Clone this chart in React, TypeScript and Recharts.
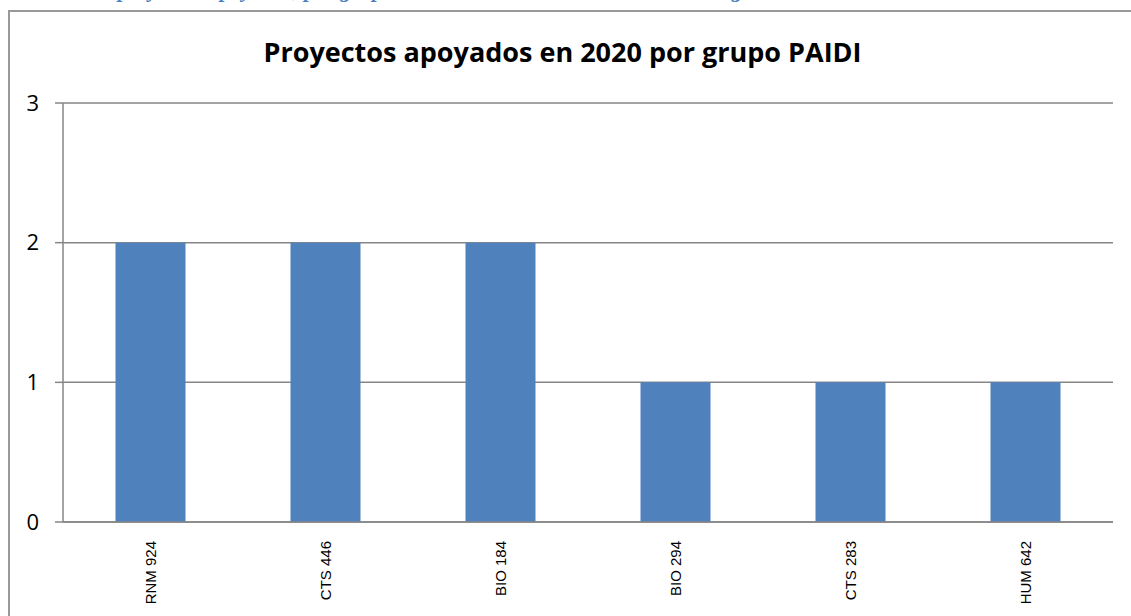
import React from 'react'
import { BarChart, Bar, XAxis, YAxis, CartesianGrid } from 'recharts'

const groups = ['RNM 924', 'CTS 446', 'BIO 184', 'BIO 294', 'CTS 283', 'HUM 642']
const projects = [2, 2, 2, 1, 1, 1]
const yTicks = [0, 1, 2, 3]
const edgeTicks = [0, 1, 2, 3, 4, 5, 6]

const data = groups.map((name, i) => ({ name, projects: projects[i] }))

const GRAY = '#868686'

function GroupTick({ x, y, payload }: any) {
  return (
    <text
      x={x}
      y={y + 11}
      transform={`rotate(-90, ${x}, ${y + 11})`}
      textAnchor="end"
      dominantBaseline="central"
      fontSize={15}
      fontFamily="'Liberation Sans', Arial, sans-serif"
      fill="#000"
    >
      {payload.value}
    </text>
  )
}

export default function App() {
  return (
    <div style={{ position: 'absolute', left: 0, top: 0, width: 1131, height: 616, overflow: 'hidden', background: '#fff' }}>
      {/* caption of the document, cut off by the crop */}
      <div
        style={{
          position: 'absolute',
          left: 118,
          top: -23,
          whiteSpace: 'nowrap',
          fontFamily: "'Liberation Serif', serif",
          fontStyle: 'italic',
          fontWeight: 'bold',
          fontSize: 22,
          color: '#4f81bd',
        }}
      >
        proyectos apoyados, por grupo PAIDI en la convocatoria de 2020 según
      </div>
      <div
        style={{
          position: 'absolute',
          left: 8,
          top: 10,
          width: 1140,
          height: 620,
          borderLeft: '2px solid #999',
          borderTop: '2px solid #999',
          background: '#fff',
        }}
      />
      <div
        style={{
          position: 'absolute',
          left: 0,
          top: 33,
          width: 1131,
          textAlign: 'center',
          fontFamily: "'Open Sans', sans-serif",
          fontWeight: 'bold',
          fontSize: 27,
          color: '#000',
        }}
      >
        <span style={{ position: 'relative', left: -3 }}>Proyectos apoyados en 2020 por grupo PAIDI</span>
      </div>
      <div style={{ position: 'absolute', left: 0, top: 0 }}>
        <BarChart
          width={1131}
          height={616}
          data={data}
          margin={{ top: 103, right: 18, bottom: 14, left: 13 }}
          barCategoryGap="30%"
        >
          <CartesianGrid vertical={false} stroke={GRAY} strokeWidth={1.5} />
          <XAxis
            xAxisId="edges"
            type="number"
            domain={[0, 6]}
            ticks={edgeTicks}
            allowDataOverflow
            tick={false}
            tickSize={6}
            tickLine={{ stroke: GRAY, strokeWidth: 1.5 }}
            axisLine={false}
            height={0}
          />
          <XAxis
            dataKey="name"
            interval={0}
            tickLine={false}
            axisLine={{ stroke: GRAY, strokeWidth: 1.5 }}
            tick={<GroupTick />}
            height={80}
          />
          <YAxis
            domain={[0, 3]}
            ticks={yTicks}
            width={50}
            tickSize={8}
            tickMargin={16}
            tickLine={{ stroke: GRAY, strokeWidth: 1.5 }}
            axisLine={{ stroke: GRAY, strokeWidth: 1.5 }}
            tick={{ fontSize: 22, fill: '#000', fontFamily: "'Open Sans', sans-serif" }}
          />
          <Bar dataKey="projects" fill="#4f81bd" isAnimationActive={false} />
        </BarChart>
      </div>
    </div>
  )
}
